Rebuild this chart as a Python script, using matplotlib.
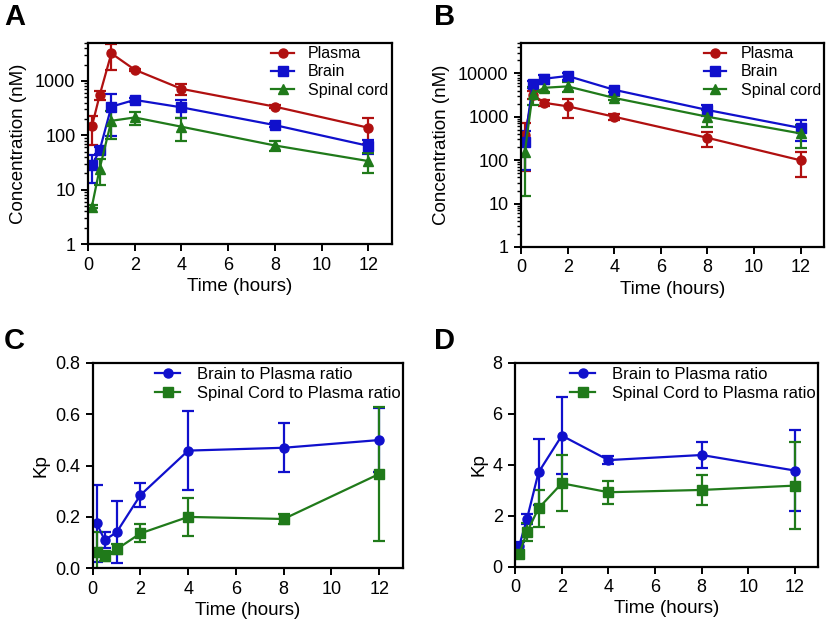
import numpy as np
import matplotlib
matplotlib.use('Agg')
import matplotlib.pyplot as plt
from matplotlib.lines import Line2D
from matplotlib.ticker import LogLocator, NullFormatter, FixedLocator

plt.rcParams['font.family'] = ['Liberation Sans', 'DejaVu Sans']

time = [0.167, 0.5, 1, 2, 4, 8, 12]

# panel A: concentrations (nM)
a_plasma = [146, 549, 3220, 1610, 716, 337, 138]
a_plasma_sd = [80, 100, 1600, 60, 170, 25, 70]
a_brain = [28, 53, 337, 448, 327, 154, 64]
a_brain_sd = [15, 8, 240, 40, 120, 12, 18]
a_spinal = [4.9, 24.4, 185, 213, 144, 65, 33.6]
a_spinal_sd = [0.3, 12, 100, 60, 65, 13, 13]

# panel B: concentrations (nM)
b_plasma = [385, 3240, 2090, 1740, 1000, 327, 99]
b_plasma_sd = [330, 700, 300, 800, 150, 130, 57]
b_brain = [269, 5560, 7500, 8700, 4170, 1430, 550]
b_brain_sd = [210, 1000, 1500, 1500, 500, 400, 280]
b_spinal = [155, 3400, 4650, 5000, 2710, 1000, 412]
b_spinal_sd = [140, 1500, 1000, 1200, 300, 430, 220]

# panel C: Kp
c_brain = [0.175, 0.11, 0.14, 0.285, 0.458, 0.469, 0.499]
c_brain_sd = [0.15, 0.032, 0.12, 0.047, 0.155, 0.095, 0.123]
c_spinal = [0.065, 0.048, 0.074, 0.136, 0.2, 0.192, 0.367]
c_spinal_sd = [0.077, 0.02, 0.02, 0.035, 0.075, 0.02, 0.26]

# panel D: Kp
d_brain = [0.81, 1.86, 3.7, 5.14, 4.18, 4.38, 3.77]
d_brain_sd = [0.15, 0.2, 1.3, 1.5, 0.15, 0.5, 1.6]
d_spinal = [0.49, 1.35, 2.29, 3.27, 2.92, 3.01, 3.18]
d_spinal_sd = [0.1, 0.35, 0.73, 1.1, 0.46, 0.6, 1.7]

red = '#B01010'
blue = '#1010CC'
green = '#207A1A'


def series(ax, y, sd, color, marker, label, ms=6.5):
    ax.errorbar(time, y, yerr=sd, color=color, marker=marker, markersize=ms,
                lw=1.6, elinewidth=1.6, capsize=4, capthick=1.6)
    return Line2D([], [], color=color, marker=marker, markersize=ms, lw=1.6, label=label)


def style(ax):
    for s in ax.spines.values():
        s.set_linewidth(1.6)
    ax.set_xlim(0, 13)
    ax.xaxis.set_major_locator(FixedLocator([0, 2, 4, 6, 8, 10, 12]))
    ax.tick_params(axis='both', which='major', direction='out', length=5,
                   width=1.4, labelsize=13, pad=4)
    ax.tick_params(axis='both', which='minor', direction='out', length=3, width=1.0)
    ax.set_xlabel('Time (hours)', fontsize=13.5, labelpad=3)


fig = plt.figure(figsize=(8.27, 6.22), dpi=100)
axA = fig.add_axes([0.1064, 0.6077, 0.3672, 0.3232])
axB = fig.add_axes([0.630, 0.6029, 0.3664, 0.3280])
axC = fig.add_axes([0.1121, 0.0863, 0.3752, 0.3306])
axD = fig.add_axes([0.623, 0.0889, 0.3664, 0.3280])

for ax, data in [(axA, (a_plasma, a_plasma_sd, a_brain, a_brain_sd, a_spinal, a_spinal_sd)),
                 (axB, (b_plasma, b_plasma_sd, b_brain, b_brain_sd, b_spinal, b_spinal_sd))]:
    p, psd, b, bsd, s, ssd = data
    h = [series(ax, p, psd, red, 'o', 'Plasma'),
         series(ax, b, bsd, blue, 's', 'Brain'),
         series(ax, s, ssd, green, '^', 'Spinal cord')]
    ax.set_yscale('log')
    ax.yaxis.set_minor_locator(LogLocator(base=10, subs=np.arange(2, 10), numticks=20))
    ax.yaxis.set_minor_formatter(NullFormatter())
    style(ax)
    ax.set_ylabel('Concentration (nM)', fontsize=13.5, labelpad=6)
    ax.legend(handles=h, loc='upper right', bbox_to_anchor=(1.0, 1.0), frameon=False,
              fontsize=11.5, handlelength=1.4, handletextpad=0.9, labelspacing=0.2,
              borderaxespad=0.0, borderpad=0.2)

axA.set_yticks([1, 10, 100, 1000])
axA.set_yticklabels(['1', '10', '100', '1000'])
axB.set_yticks([1, 10, 100, 1000, 10000])
axB.set_yticklabels(['1', '10', '100', '1000', '10000'])
axA.set_ylim(1, 5000)
axB.set_ylim(1, 50000)

hC = [series(axC, c_brain, c_brain_sd, blue, 'o', 'Brain to Plasma ratio'),
      series(axC, c_spinal, c_spinal_sd, green, 's', 'Spinal Cord to Plasma ratio')]
axC.set_ylim(0, 0.8)
axC.set_yticks([0.0, 0.2, 0.4, 0.6, 0.8])
axC.set_yticklabels(['0.0', '0.2', '0.4', '0.6', '0.8'])

hD = [series(axD, d_brain, d_brain_sd, blue, 'o', 'Brain to Plasma ratio'),
      series(axD, d_spinal, d_spinal_sd, green, 's', 'Spinal Cord to Plasma ratio')]
axD.set_ylim(0, 8)
axD.set_yticks([0, 2, 4, 6, 8])

for ax, h in ((axC, hC), (axD, hD)):
    style(ax)
    ax.set_ylabel('Kp', fontsize=13.5, labelpad=4)
    ax.legend(handles=h, loc='upper right', bbox_to_anchor=(1.0, 0.99), frameon=False,
              fontsize=12, handlelength=1.5, handletextpad=1.0, labelspacing=0.2,
              borderaxespad=0.0, borderpad=0.15)

for lbl, x, y in [('A', 0.005, 0.995), ('B', 0.525, 0.995), ('C', 0.005, 0.475), ('D', 0.525, 0.475)]:
    fig.text(x, y, lbl, fontsize=21, fontweight='bold', va='top', ha='left')

fig.savefig('out.png', dpi=100)
